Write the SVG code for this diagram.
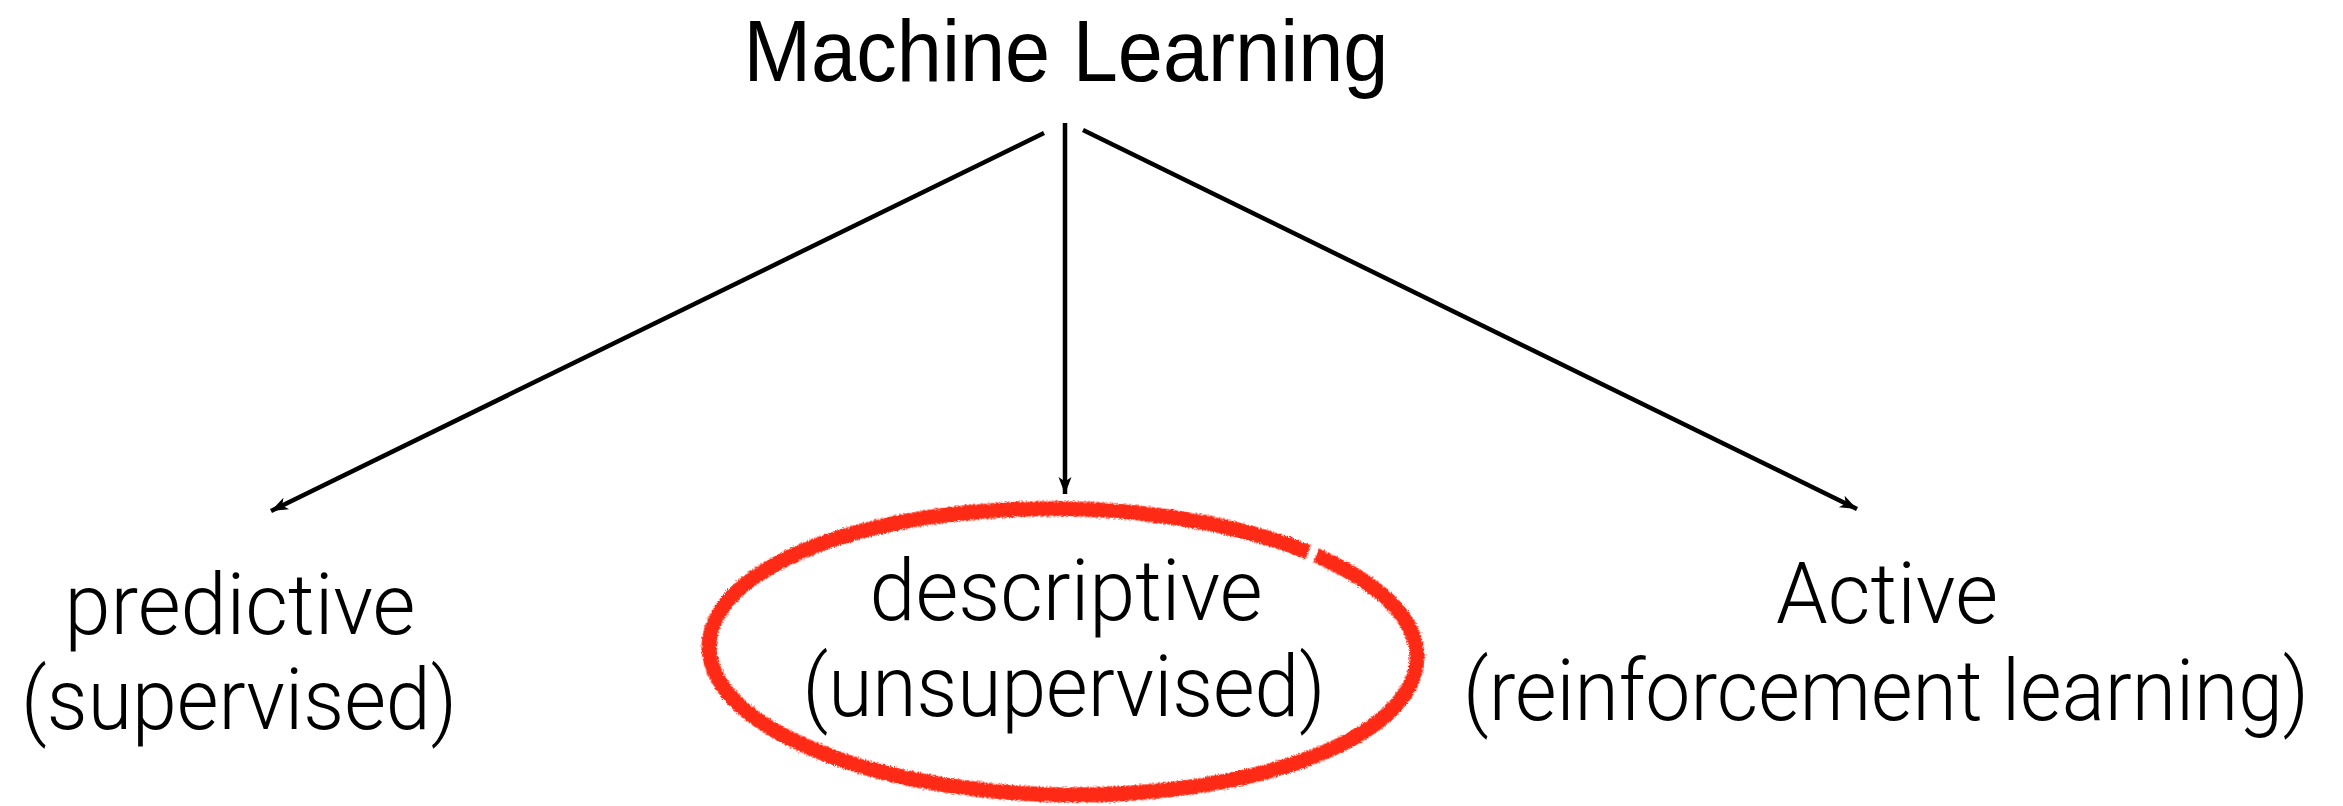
<svg xmlns="http://www.w3.org/2000/svg" width="2343" height="806" viewBox="0 0 2343 806">
  <style>
    .t { fill: #000; text-anchor: middle; }
    .title { font-family: "Liberation Sans", Arial, sans-serif; font-size: 88px; }
    .lbl { font-family: Roboto, "Liberation Sans", Arial, sans-serif; font-weight: 300; font-size: 85px; }
    .conn { stroke: #000; stroke-width: 4.5; fill: none; }
    .hl { stroke: #ff2a12; stroke-width: 15; fill: none; }
  </style>
  <defs>
    <marker id="arr" viewBox="-18 -8 20 16" refX="0" refY="0" markerWidth="20" markerHeight="16" markerUnits="userSpaceOnUse" orient="auto">
      <path d="M0,0 L-17,-6.5 L-12.5,0 L-17,6.5 Z" fill="#000"/>
    </marker>
    <filter id="chalk" x="-5%" y="-10%" width="110%" height="120%">
      <feTurbulence type="fractalNoise" baseFrequency="0.8" numOctaves="2" seed="3" result="n"/>
      <feDisplacementMap in="SourceGraphic" in2="n" scale="5" xChannelSelector="R" yChannelSelector="G"/>
    </filter>
  </defs>
  <rect width="2343" height="806" fill="#fff"/>

  <g id="connectors">
    <line class="conn" x1="1044" y1="133" x2="271" y2="511" marker-end="url(#arr)"/>
    <line class="conn" x1="1065" y1="123" x2="1065" y2="494" marker-end="url(#arr)"/>
    <line class="conn" x1="1083" y1="130" x2="1857" y2="509" marker-end="url(#arr)"/>
  </g>

  <g id="node-root">
    <text class="t title" x="1066" y="81" textLength="645" lengthAdjust="spacingAndGlyphs">Machine Learning</text>
  </g>

  <g id="node-predictive">
    <text class="t lbl" x="240" y="634" textLength="351" lengthAdjust="spacingAndGlyphs">predictive</text>
    <text class="t lbl" x="239" y="729" textLength="436" lengthAdjust="spacingAndGlyphs">(supervised)</text>
  </g>

  <g id="node-descriptive">
    <path class="hl" filter="url(#chalk)" transform="rotate(1 1066 653)" d="M 1314.5 551.2 A 354 143 0 1 1 1306.4 548"/>
    <text class="t lbl" x="1066" y="620" textLength="393" lengthAdjust="spacingAndGlyphs">descriptive</text>
    <text class="t lbl" x="1064" y="716" textLength="523" lengthAdjust="spacingAndGlyphs">(unsupervised)</text>
  </g>

  <g id="node-active">
    <text class="t lbl" x="1887" y="623" textLength="222" lengthAdjust="spacingAndGlyphs">Active</text>
    <text class="t lbl" x="1886" y="720" textLength="846" lengthAdjust="spacingAndGlyphs">(reinforcement learning)</text>
  </g>
</svg>
